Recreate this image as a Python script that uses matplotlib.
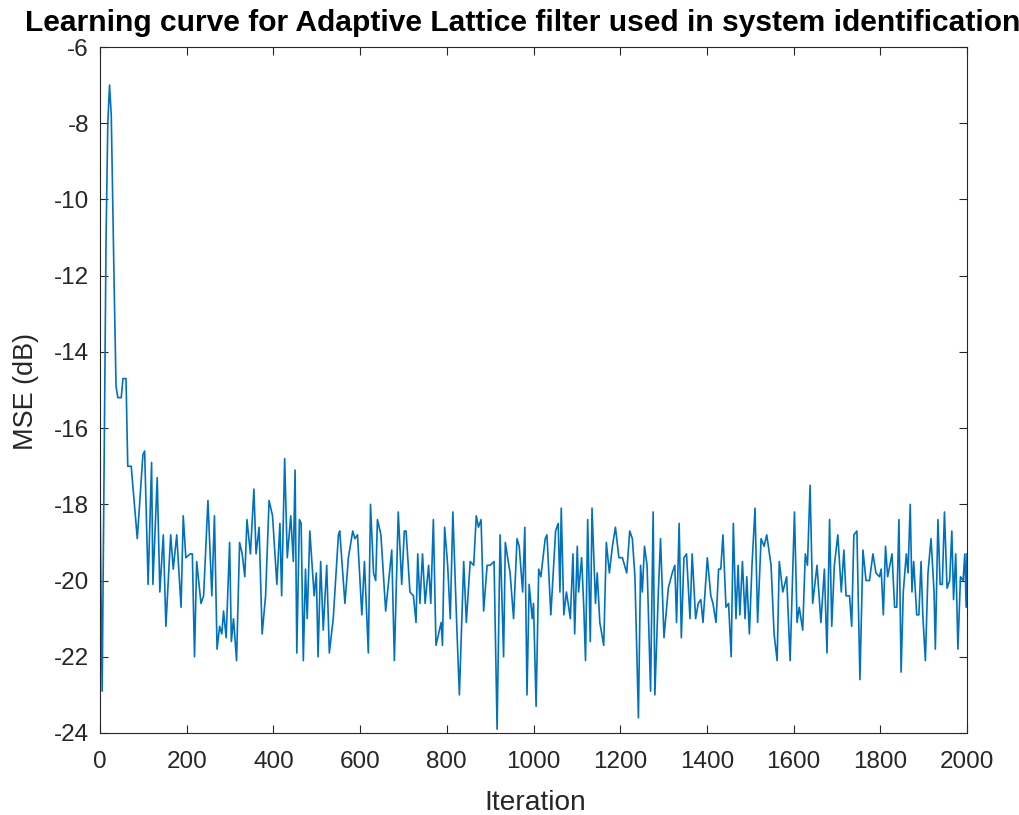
import matplotlib
matplotlib.use("Agg")
import matplotlib.pyplot as plt

# ---- data ----
iterations = [
    0, 2, 5, 8, 11, 14, 18, 22, 26, 30, 33, 37, 41, 49, 53, 60, 64, 72, 86,
    99, 103, 111, 119, 122, 132, 138, 146, 152, 163, 169, 177, 187, 192, 198,
    208, 213, 218, 223, 233, 239, 249, 258, 264, 270, 276, 281, 285, 291, 299,
    303, 308, 315, 322, 328, 334, 339, 347, 355, 360, 367, 374, 382, 390, 398,
    408, 415, 419, 426, 432, 440, 446, 450, 454, 460, 464, 469, 474, 478, 484,
    494, 499, 503, 509, 515, 523, 529, 538, 550, 553, 565, 573, 583, 588, 594,
    604, 610, 619, 624, 631, 636, 640, 648, 659, 673, 679, 688, 696, 702, 706,
    715, 723, 729, 733, 738, 744, 750, 758, 763, 769, 775, 781, 787, 790, 795,
    802, 808, 814, 823, 829, 839, 845, 854, 862, 868, 873, 879, 885, 893, 900,
    909, 916, 923, 931, 935, 939, 946, 954, 962, 967, 975, 980, 985, 990, 997,
    1000, 1006, 1012, 1017, 1027, 1031, 1040, 1051, 1057, 1061, 1064, 1070,
    1076, 1085, 1091, 1095, 1101, 1104, 1111, 1116, 1120, 1125, 1131, 1135,
    1143, 1147, 1153, 1162, 1168, 1175, 1182, 1189, 1197, 1205, 1215, 1222,
    1228, 1234, 1242, 1247, 1251, 1256, 1262, 1270, 1276, 1280, 1288, 1293,
    1301, 1311, 1320, 1326, 1330, 1336, 1341, 1347, 1353, 1361, 1366, 1374,
    1380, 1386, 1391, 1401, 1409, 1414, 1421, 1427, 1432, 1437, 1444, 1450,
    1456, 1461, 1467, 1472, 1476, 1482, 1488, 1492, 1498, 1504, 1511, 1517,
    1525, 1532, 1538, 1548, 1555, 1562, 1567, 1575, 1584, 1592, 1602, 1608,
    1613, 1621, 1627, 1632, 1638, 1644, 1654, 1663, 1671, 1677, 1683, 1688,
    1694, 1702, 1710, 1716, 1721, 1729, 1734, 1739, 1746, 1753, 1760, 1767,
    1775, 1783, 1790, 1798, 1802, 1807, 1812, 1817, 1827, 1833, 1838, 1843,
    1848, 1853, 1860, 1864, 1869, 1873, 1877, 1884, 1889, 1894, 1898, 1904,
    1910, 1917, 1924, 1927, 1933, 1938, 1943, 1948, 1954, 1960, 1965, 1969,
    1974, 1979, 1985, 1991, 1995, 1998, 2000,
]
mse_db = [
    -17.5, -20.0, -22.9, -19.0, -15.0, -11.0, -8.0, -7.0, -7.8, -10.5, -12.5, -14.9, -15.2, -15.2, -14.7, -14.7, -17.0, -17.0, -18.9,
    -16.7, -16.6, -20.1, -16.9, -20.1, -17.3, -20.3, -18.8, -21.2, -18.8, -19.7, -18.8, -20.7, -18.3, -19.4,
    -19.3, -19.3, -22.0, -19.5, -20.6, -20.4, -17.9, -20.4, -18.3, -21.8, -21.2, -21.4, -20.8, -21.5, -19.0,
    -21.6, -21.0, -22.1, -19.0, -19.3, -19.9, -18.4, -19.3, -17.6, -19.3, -18.6, -21.4, -20.4, -17.9, -18.3,
    -20.1, -18.5, -20.4, -16.8, -19.4, -18.3, -19.5, -17.1, -21.9, -18.4, -18.5, -22.1, -19.7, -21.0, -18.7,
    -20.4, -19.8, -22.0, -19.5, -21.3, -19.6, -21.9, -21.0, -18.8, -18.7, -20.6, -19.4, -18.7, -18.9, -18.8,
    -20.9, -19.5, -21.9, -18.0, -19.8, -20.0, -18.4, -18.8, -20.8, -19.2, -22.1, -18.2, -20.1, -18.7, -18.7,
    -20.3, -20.4, -21.1, -19.3, -20.6, -19.3, -20.6, -19.6, -20.6, -18.4, -21.7, -21.4, -21.1, -21.7, -18.6,
    -19.6, -21.0, -18.2, -21.2, -23.0, -19.5, -21.1, -19.5, -19.6, -18.3, -18.6, -18.4, -20.8, -19.6, -19.6,
    -19.5, -23.9, -18.8, -22.0, -19.0, -19.3, -19.8, -21.0, -18.9, -19.1, -20.3, -18.6, -23.0, -20.1, -21.0,
    -20.6, -23.3, -19.7, -19.9, -18.9, -18.8, -20.9, -18.7, -18.5, -20.3, -18.1, -20.9,
    -20.3, -21.0, -19.3, -21.4, -19.1, -20.3, -19.4, -20.7, -22.1, -18.4, -21.6, -18.1,
    -20.6, -19.8, -21.1, -21.7, -19.0, -19.8, -19.1, -18.6, -19.4, -19.4, -19.8, -18.7,
    -18.9, -19.9, -23.6, -19.6, -20.3, -19.1, -19.6, -22.9, -18.2, -23.0, -20.3, -18.9,
    -21.5, -20.2, -19.8, -19.6, -21.1, -18.5, -21.5, -19.4, -19.3, -21.0, -19.3, -21.0,
    -20.6, -20.5, -21.1, -19.4, -20.4, -20.6, -21.1, -19.7, -19.7, -18.8, -20.7, -20.6,
    -22.0, -18.5, -21.0, -19.6, -20.9, -19.5, -21.0, -19.9, -21.4, -19.6, -18.1, -21.1,
    -18.9, -19.1, -18.8, -19.6, -21.4, -22.1, -19.5, -20.3, -19.9, -22.1, -18.2, -21.1,
    -20.7, -21.3, -19.3, -19.6, -17.5, -20.6, -19.6, -21.1, -19.7, -21.9, -18.4, -21.2,
    -19.6, -18.8, -20.3, -19.2, -20.4, -20.4, -21.2, -18.8, -18.7, -22.6, -19.2, -20.0,
    -20.0, -19.3, -19.8, -19.9, -19.7, -20.9, -19.1, -19.9, -19.3, -20.7, -20.7, -18.4,
    -22.4, -20.3, -19.3, -19.8, -18.0, -20.3, -19.5, -20.9, -20.9, -19.5, -20.9, -22.1,
    -19.8, -18.9, -20.3, -21.8, -18.4, -20.1, -20.1, -18.2, -20.2, -20.0, -18.7, -20.5,
    -19.3, -21.8, -19.9, -20.0, -19.3, -20.7, -19.3,
]
x_ticks = [0, 200, 400, 600, 800, 1000, 1200, 1400, 1600, 1800, 2000]
y_ticks = [-24, -22, -20, -18, -16, -14, -12, -10, -8, -6]
title_text = "Learning curve for Adaptive Lattice filter used in system identification"
xlabel_text = "Iteration"
ylabel_text = "MSE (dB)"

# ---- style ----
W, H = 1019, 815
FONT = "Liberation Sans"
AX_COLOR = "#262626"
LINE_COLOR = "#0072BD"

fig = plt.figure(figsize=(W / 100, H / 100), dpi=100)
ax = fig.add_axes([100 / W, 1 - 733 / H, 867 / W, 686 / H])

ax.plot(iterations, mse_db, color=LINE_COLOR, lw=1.2, solid_joinstyle="round")

ax.set_xlim(0, 2000)
ax.set_ylim(-24, -6)
ax.set_xticks(x_ticks)
ax.set_yticks(y_ticks)
ax.set_xticklabels([str(v) for v in x_ticks])
ax.set_yticklabels([str(v) for v in y_ticks])

for s in ax.spines.values():
    s.set_color(AX_COLOR)
    s.set_linewidth(0.8)

ax.tick_params(axis="both", direction="in", length=5.5, width=0.8,
               colors=AX_COLOR, top=True, right=True, labelsize=17.5)
ax.tick_params(axis="x", pad=13)
ax.tick_params(axis="y", pad=8)
for lbl in ax.get_xticklabels() + ax.get_yticklabels():
    lbl.set_fontfamily(FONT)

t_title = fig.text(25 / W, 1 - 31 / H, title_text, ha="left", va="baseline",
                   fontfamily=FONT, fontweight="bold", fontsize=20, color="black")
t_xl = fig.text(535 / W, 1 - 810 / H, xlabel_text, ha="center", va="baseline",
                fontfamily=FONT, fontsize=20, color=AX_COLOR)
t_yl = fig.text(26 / W, 1 - 392 / H, ylabel_text, ha="center", va="center",
                rotation=90, fontfamily=FONT, fontsize=20, color=AX_COLOR)

# fit text sizes to the measured extents of the reference
fig.canvas.draw()
r = fig.canvas.get_renderer()
def fit(t, target, use_height=False):
    bb = t.get_window_extent(r)
    cur = bb.height if use_height else bb.width
    t.set_fontsize(t.get_fontsize() * target / cur)
fit(t_title, 994)
fit(t_xl, 101)
fit(t_yl, 117, use_height=True)

fig.savefig("out.png", dpi=100, facecolor="white")
